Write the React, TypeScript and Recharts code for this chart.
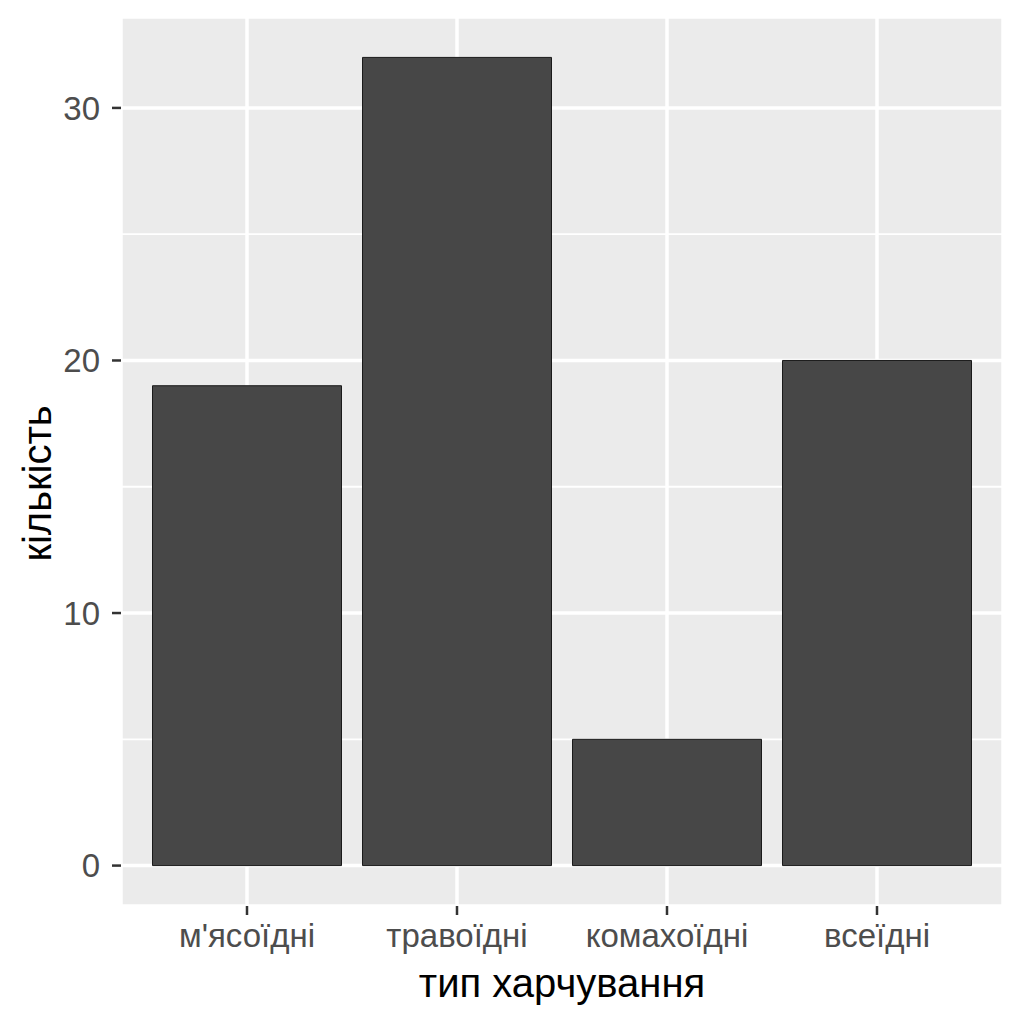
import { BarChart, Bar, XAxis, YAxis, CartesianGrid, Label } from 'recharts';

const categories = ["м'ясоїдні", 'травоїдні', 'комахоїдні', 'всеїдні'];
const counts = [19, 32, 5, 20];
const majorTicks = [0, 10, 20, 30];
const minorTicks = [5, 15, 25];

const data = categories.map((type, i) => ({ type, count: counts[i] }));

const FONT = '"Liberation Sans", Arial, sans-serif';

const YTitle = ({ viewBox }: any) => {
  const x = viewBox.x + 37;
  const y = viewBox.y + viewBox.height / 2 + 22;
  return (
    <text x={x} y={y} transform={`rotate(-90, ${x}, ${y})`} textAnchor="middle" dominantBaseline="central" fontSize={40} fill="#000" fontFamily={FONT}>
      кількість
    </text>
  );
};

export default function App() {
  return (
    <div style={{ position: 'absolute', left: 0, top: 0, width: 1024, height: 1024, background: '#fff', fontFamily: FONT }}>
      <BarChart width={1024} height={1024} data={data} margin={{ top: 17, right: 21, left: 0, bottom: 0 }} barCategoryGap="5%">
        <CartesianGrid fill="#EBEBEB" stroke="#fff" strokeWidth={1.8} vertical={false} horizontalValues={minorTicks} />
        <CartesianGrid fill="none" stroke="#fff" strokeWidth={3.5} />
        <XAxis
          dataKey="type"
          padding={{ left: 21, right: 21 }}
          height={118}
          axisLine={false}
          tickLine={{ stroke: '#333', strokeWidth: 2.5 }}
          tickSize={9}
          tickMargin={9}
          tick={{ fill: '#4D4D4D', fontSize: 33 }}
          interval={0}
        >
          <Label value="тип харчування" position="insideBottom" offset={27} fontSize={40} fill="#000" />
        </XAxis>
        <YAxis
          type="number"
          domain={[-1.6, 33.6]}
          ticks={majorTicks}
          allowDataOverflow
          width={121}
          axisLine={false}
          tickLine={{ stroke: '#333', strokeWidth: 2.5 }}
          tickSize={9}
          tickMargin={12}
          tick={{ fill: '#4D4D4D', fontSize: 33 }}
          interval={0}
        >
          <Label content={<YTitle />} />
        </YAxis>
        <Bar dataKey="count" fill="#474747" stroke="#1a1a1a" strokeWidth={1} isAnimationActive={false} />
      </BarChart>
    </div>
  );
}
